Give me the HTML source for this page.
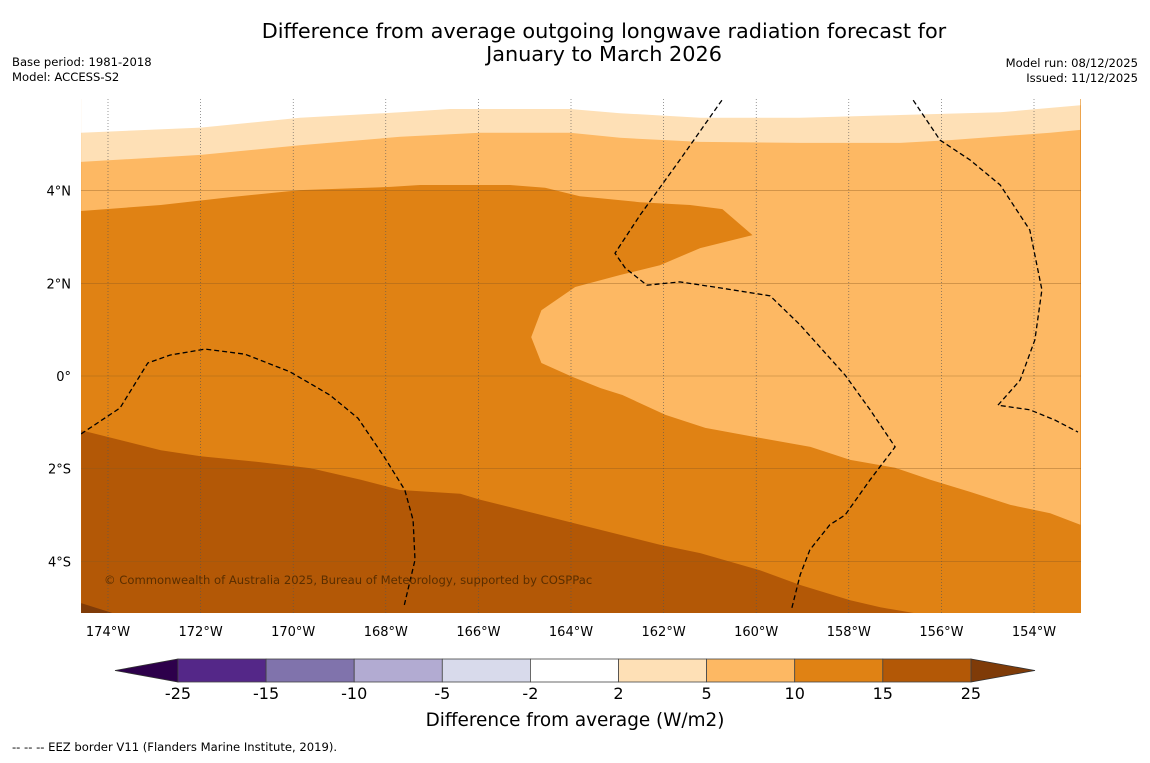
<!DOCTYPE html>
<html><head><meta charset="utf-8">
<style>
body{margin:0;background:#fff;font-family:"Liberation Sans","DejaVu Sans",sans-serif;}
svg text{font-family:"DejaVu Sans","Liberation Sans",sans-serif;}
</style></head>
<body>
<svg id="chart" width="1150" height="758" viewBox="0 0 1150 758" xmlns="http://www.w3.org/2000/svg">
<text x="604" y="38" font-size="20.8" text-anchor="middle">Difference from average outgoing longwave radiation forecast for</text>
<text x="604" y="61" font-size="20.8" text-anchor="middle">January to March 2026</text>
<text x="12" y="66" font-size="11.6">Base period: 1981-2018</text>
<text x="12" y="81" font-size="11.6">Model: ACCESS-S2</text>
<text x="1138" y="67" font-size="11.6" text-anchor="end">Model run: 08/12/2025</text>
<text x="1138" y="82" font-size="11.6" text-anchor="end">Issued: 11/12/2025</text>
<defs><clipPath id="mapclip"><rect x="81" y="99" width="1000" height="514"/></clipPath></defs>
<g id="map" clip-path="url(#mapclip)"></g>
<g id="axes"></g>
<g id="cbar"></g>
<text x="575" y="726" font-size="18.4" text-anchor="middle">Difference from average (W/m2)</text>
<text x="12" y="751" font-size="11.6">--  --  -- EEZ border V11 (Flanders Marine Institute, 2019).</text>
</svg>
<script>
// ---- data (lon, lat) ----
const lonTicks=[-174,-172,-170,-168,-166,-164,-162,-160,-158,-156,-154];
const lonLabels=["174°W","172°W","170°W","168°W","166°W","164°W","162°W","160°W","158°W","156°W","154°W"];
const latTicks=[4,2,0,-2,-4];
const latLabels=["4°N","2°N","0°","2°S","4°S"];
const levels=[-25,-15,-10,-5,-2,2,5,10,15,25];
const levelColors=["#542788","#8073ac","#b2abd2","#d8daeb","#ffffff","#fee0b6","#fdb863","#e08214","#b35806"];
const underColor="#2d004b", overColor="#7f3b08";
// contour boundaries
const c2=[[-174.58,5.25],[-172,5.36],[-169.85,5.57],[-167.69,5.69],[-166.61,5.76],[-164.02,5.76],[-162.94,5.67],[-161.21,5.57],[-159.05,5.57],[-156.89,5.63],[-154.73,5.69],[-153.0,5.84]];
const c5=[[-174.58,4.62],[-172,4.77],[-169.85,4.98],[-167.69,5.16],[-165.96,5.25],[-164.02,5.25],[-162.94,5.14],[-161.21,5.05],[-159.05,5.03],[-156.89,5.03],[-155.81,5.09],[-153.65,5.25],[-153.0,5.31]];
const c10=[[-174.58,3.56],[-172.86,3.69],[-171.35,3.86],[-169.85,4.01],[-167.9,4.08],[-167.26,4.12],[-165.32,4.12],[-164.56,4.06],[-163.81,3.88],[-162.51,3.75],[-161.43,3.69],[-160.73,3.60],[-160.08,3.04],[-161.21,2.76],[-162.08,2.39],[-162.94,2.18],[-163.91,1.92],[-164.64,1.42],[-164.86,0.84],[-164.64,0.28],[-163.97,-0.02],[-163.36,-0.26],[-162.89,-0.41],[-161.96,-0.84],[-161.1,-1.12],[-160.0,-1.32],[-158.83,-1.53],[-157.97,-1.81],[-157.0,-1.98],[-156.24,-2.24],[-155.38,-2.5],[-154.51,-2.78],[-153.65,-2.96],[-153.0,-3.21],[-153.0,6.5],[-174.58,6.5]];
const c15=[[-174.58,-1.17],[-173.74,-1.38],[-172.86,-1.60],[-172,-1.73],[-170.7,-1.86],[-169.62,-1.99],[-168.54,-2.24],[-167.69,-2.46],[-166.39,-2.54],[-165.96,-2.67],[-164.67,-2.99],[-163.36,-3.32],[-162.08,-3.64],[-161.21,-3.82],[-159.92,-4.19],[-159.05,-4.51],[-157.97,-4.84],[-157.32,-4.99],[-156.56,-5.12],[-153,-5.5],[-174.58,-5.5]];
const c25=[[-174.58,-4.9],[-173.63,-5.2],[-174.58,-5.2]];
const eez1=[[-174.58,-1.25],[-173.74,-0.69],[-173.14,0.28],[-172.66,0.45],[-171.9,0.58],[-171.04,0.47],[-170.07,0.09],[-169.21,-0.41],[-168.6,-0.91],[-168.02,-1.77],[-167.59,-2.46],[-167.41,-3.11],[-167.37,-3.97],[-167.61,-4.98]];
const eez2=[[-160.74,5.95],[-161.65,4.66],[-162.51,3.47],[-163.05,2.65],[-162.83,2.33],[-162.36,1.96],[-161.65,2.03],[-160.78,1.90],[-159.70,1.73],[-159.05,1.10],[-158.08,0.02],[-157.54,-0.73],[-157.0,-1.53],[-157.54,-2.24],[-158.08,-3.0],[-158.41,-3.21],[-158.84,-3.75],[-159.05,-4.29],[-159.23,-5.0]];
const eez3=[[-156.61,5.95],[-156.03,5.09],[-155.38,4.66],[-154.73,4.12],[-154.09,3.15],[-153.83,1.86],[-153.98,0.78],[-154.30,-0.09],[-154.78,-0.63],[-154.09,-0.73],[-153.55,-0.95],[-153.05,-1.21]];
// ---- projection ----
const X=lon=>108+(lon+174)*46.3;
const Y=lat=>376-lat*46.35;
const NS="http://www.w3.org/2000/svg";
function mk(tag,attrs,parent){const e=document.createElementNS(NS,tag);for(const k in attrs)e.setAttribute(k,attrs[k]);parent.appendChild(e);return e;}
const map=document.getElementById('map');
const pts=a=>a.map(p=>X(p[0]).toFixed(1)+","+Y(p[1]).toFixed(1)).join(" ");
let r=mk('rect',{x:81,y:99,width:1000,height:514,fill:levelColors[7]},map);

let p=mk('polygon',{points:pts(c10),fill:levelColors[6]},map);

p=mk('polygon',{points:pts(c5.concat([[-153,6.5],[-174.58,6.5]])),fill:levelColors[5]},map);

p=mk('polygon',{points:pts(c2.concat([[-153,6.5],[-174.58,6.5]])),fill:levelColors[4]},map);

p=mk('polygon',{points:pts(c15),fill:levelColors[8]},map);

p=mk('polygon',{points:pts(c25),fill:overColor},map);

lonTicks.forEach(l=>{const g=mk('line',{x1:X(l),x2:X(l),y1:99,y2:613,stroke:"#555","stroke-width":0.6,"stroke-dasharray":"1,2"},map);
});
latTicks.forEach(l=>{const g=mk('line',{x1:81,x2:1081,y1:Y(l),y2:Y(l),stroke:"#8a5a20","stroke-width":0.6,"stroke-opacity":0.6},map);
});
[eez1,eez2,eez3].forEach(e=>{const l=mk('polyline',{points:pts(e),fill:"none",stroke:"#000","stroke-width":1.3,"stroke-dasharray":"5,3"},map);
});
let cp=mk('text',{x:104,y:584,"font-size":11.6,fill:"#5a2e00"},map);cp.textContent="© Commonwealth of Australia 2025, Bureau of Meteorology, supported by COSPPac";

const axes=document.getElementById('axes');
lonTicks.forEach((l,i)=>{const t=mk('text',{x:X(l),y:636,"font-size":13,"text-anchor":"middle"},axes);t.textContent=lonLabels[i];
});
latTicks.forEach((l,i)=>{const t=mk('text',{x:71,y:Y(l)+5,"font-size":13,"text-anchor":"end"},axes);t.textContent=latLabels[i];
});
const cb=document.getElementById('cbar');
const cx0=178,cw=88.1,cy=659,ch=23;
const CX=i=>cx0+i*cw;
let tri=mk('polygon',{points:`115,${cy+ch/2} ${CX(0)},${cy} ${CX(0)},${cy+ch}`,fill:underColor,stroke:"#333","stroke-width":0.8},cb);

tri=mk('polygon',{points:`1035,${cy+ch/2} ${CX(9)},${cy} ${CX(9)},${cy+ch}`,fill:overColor,stroke:"#333","stroke-width":0.8},cb);

levelColors.forEach((c,i)=>{const s=mk('rect',{x:CX(i),y:cy,width:cw,height:ch,fill:c,stroke:"#444","stroke-width":0.8},cb);
});
levels.forEach((v,i)=>{const t=mk('text',{x:CX(i),y:699,"font-size":16,"text-anchor":"middle"},cb);t.textContent=v;
});
</script>
</body></html>
